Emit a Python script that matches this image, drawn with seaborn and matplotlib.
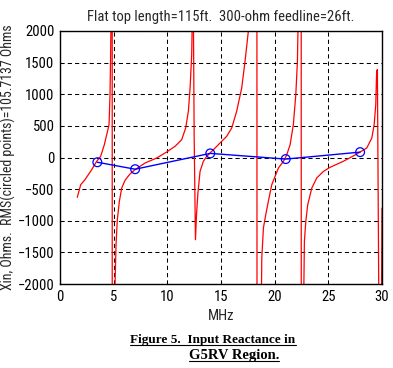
import matplotlib
matplotlib.use("Agg")
import matplotlib.pyplot as plt
import pandas as pd
import seaborn as sns
from matplotlib.lines import Line2D

# reactance sweep (MHz, ohms); big values mark the poles
freq_mhz = [1.61, 1.93, 2.33, 2.95, 3.42, 3.79, 4.13, 4.35, 4.57, 4.66, 4.72, 4.78,
            4.85, 4.88, 5.10, 5.13, 5.22, 5.34, 5.53, 5.75, 6.06, 6.52, 6.99, 7.92,
            9.01, 9.94, 10.72, 11.34, 11.71, 11.96, 12.12, 12.27, 12.40, 12.50,
            12.62, 12.72, 12.85, 13.05, 13.36, 13.67, 14.29, 14.91, 15.53, 16.00,
            16.46, 16.93, 17.24, 17.55, 18.30, 18.40, 18.75, 18.80, 18.95, 19.17,
            19.41, 19.73, 20.35, 20.82, 21.13, 21.44, 21.74, 21.97, 22.12, 22.20,
            22.45, 22.50, 22.70, 22.77, 22.90, 23.08, 23.46, 23.92, 24.54, 25.16,
            26.40, 27.65, 28.58, 29.05, 29.27, 29.42, 29.50, 29.57, 29.73, 29.93,
            30.00]
xin_ohms = [-630, -430, -350, -193, -60, 19, 203, 360, 520, 990, 1680, 2600,
            30000, -30000, -2600, -1985, -1380, -984, -693, -483, -360, -261, -193, -87,
            -8, 87, 177, 282, 467, 731, 1100, 1627, 3000, 335,
            -1300, -900, -560, -218, -60, 19, 123, 229, 335, 467,
            731, 1100, 1522, 2000, 30000, -30000, -2500, -1590, -1115, -905,
            -693, -430, -166, -60, 44, 203, 520, 994, 1522, 2300,
            30000, -30000, -2300, -1326, -1010, -747, -483, -324, -220, -155,
            -60, 55, 150, 308, 520, 836, 1364, 1390, -3000, -3000,
            -800]

# circled band points
band_mhz = [3.48, 7.0, 14.0, 21.03, 27.96]
band_xin = [-75, -185, 65, -25, 85]

title = "Flat top length=115ft.  300-ohm feedline=26ft."
xlabel = "MHz"
ylabel = "Xin, Ohms.  RMS(circled points)=105.7137 Ohms"
caption = ["Figure 5.  Input Reactance in", "G5RV Region."]

sns.set_style("white")
plt.rcParams['font.family'] = ['Roboto Condensed', 'Archivo Narrow', 'DejaVu Sans']
plt.rcParams['font.size'] = 10.5

df = pd.DataFrame({"MHz": freq_mhz, "Xin": xin_ohms})
bands = pd.DataFrame({"MHz": band_mhz, "Xin": band_xin})

fig = plt.figure(figsize=(3.93, 3.68), dpi=100)
ax = fig.add_axes([60 / 393, 1 - 284 / 368, 322 / 393, 253 / 368])

sns.lineplot(data=df, x="MHz", y="Xin", color="red", lw=0.9, sort=False,
             estimator=None, ax=ax)
sns.lineplot(data=bands, x="MHz", y="Xin", color="blue", lw=1.0, sort=False,
             estimator=None, ax=ax)
sns.scatterplot(data=bands, x="MHz", y="Xin", marker="o", s=40, facecolor="none",
                edgecolor="blue", linewidth=0.9, ax=ax, zorder=3)

ax.set_xlim(0, 30)
ax.set_ylim(-2000, 2000)
ax.set_xticks(range(0, 31, 5))
ax.set_yticks(range(-2000, 2001, 500))
ax.grid(True, color="black", linestyle=(0, (4, 3)), lw=0.75)
ax.set_axisbelow(True)
ax.tick_params(direction="in", length=3, width=0.8, colors="black", pad=4)
for s in ax.spines.values():
    s.set_color("black")
    s.set_linewidth(1.0)

ax.set_title(title, pad=7, fontsize=10.5)
ax.set_xlabel(xlabel, labelpad=4)
ax.set_ylabel(ylabel, labelpad=1, fontsize=10)

# caption below the chart, bold serif and underlined
cap_font = dict(family="Liberation Serif", weight="bold", color="black")
cap1 = fig.text(213 / 393, 1 - 343 / 368, caption[0], ha="center", va="baseline",
                fontsize=9.5, **cap_font)
cap2 = fig.text(234 / 393, 1 - 359 / 368, caption[1], ha="center", va="baseline",
                fontsize=10.5, **cap_font)

fig.canvas.draw()
rend = fig.canvas.get_renderer()
for t in (cap1, cap2):
    bb = t.get_window_extent(rend)
    _, ybase = fig.transFigure.transform(t.get_position())
    fig.add_artist(Line2D([bb.x0, bb.x1], [ybase - 2, ybase - 2], color="black",
                          lw=0.8, transform=None))

fig.savefig("out.png", dpi=100)
